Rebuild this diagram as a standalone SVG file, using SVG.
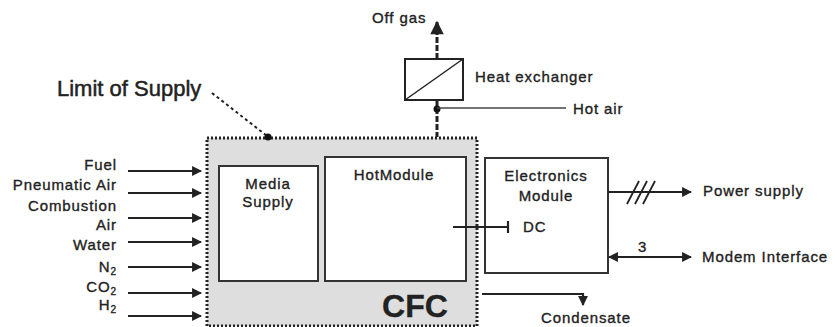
<svg xmlns="http://www.w3.org/2000/svg" width="835" height="327" viewBox="0 0 835 327">
<style>
text{font-family:"Liberation Sans",Arial,sans-serif;fill:#222;stroke:#222;stroke-width:0.35;font-size:15px;letter-spacing:0.9px}
.box{fill:#fff;stroke:#333;stroke-width:2}
.ln{fill:none;stroke:#222;stroke-width:2.2}
.end{text-anchor:end}
.mid{text-anchor:middle}
</style>
<defs>
<marker id="ah" viewBox="0 0 10 10" refX="9" refY="5" markerWidth="5" markerHeight="4.5" orient="auto-start-reverse" markerUnits="strokeWidth">
<path d="M0,0 L10,5 L0,10 Z" fill="#222"/>
</marker>
</defs>
<rect width="835" height="327" fill="#fff"/>

<g id="cfc">
<rect x="207" y="138" width="270" height="188" fill="#dedede" stroke="#222" stroke-width="3" stroke-dasharray="2 2"/>
<text x="415" y="317" class="mid" style="font-size:32px;font-weight:bold;letter-spacing:0">CFC</text>
</g>

<g id="media-supply">
<rect class="box" x="219" y="166" width="99" height="115"/>
<text x="268" y="189" class="mid">Media</text>
<text x="268" y="207" class="mid">Supply</text>
</g>

<g id="hotmodule">
<rect class="box" x="325" y="157" width="141" height="124"/>
<text x="394" y="180" class="mid">HotModule</text>
</g>

<g id="electronics">
<rect class="box" x="485" y="158" width="123" height="115"/>
<text x="546" y="181" class="mid">Electronics</text>
<text x="546" y="201" class="mid">Module</text>
<text x="523" y="232">DC</text>
</g>

<g id="heat-exchanger">
<rect x="405" y="59" width="58" height="41" fill="#fff" stroke="#222" stroke-width="2"/>
<line x1="405" y1="100" x2="463" y2="59" stroke="#222" stroke-width="1.5"/>
<text x="475" y="82">Heat exchanger</text>
</g>

<g id="limit-of-supply">
<text x="57" y="96" style="font-size:22px;letter-spacing:0;stroke-width:0.5">Limit of Supply</text>
</g>

<g id="labels">
<text x="117" y="170" class="end">Fuel</text>
<text x="117" y="190" class="end">Pneumatic Air</text>
<text x="117" y="211" class="end">Combustion</text>
<text x="117" y="230" class="end">Air</text>
<text x="117" y="250" class="end">Water</text>
<text x="117" y="272" class="end">N<tspan font-size="10" dy="3">2</tspan></text>
<text x="117" y="292" class="end">CO<tspan font-size="10" dy="3">2</tspan></text>
<text x="117" y="310" class="end">H<tspan font-size="10" dy="3">2</tspan></text>
<text x="372" y="23">Off gas</text>
<text x="573" y="114">Hot air</text>
<text x="703" y="196">Power supply</text>
<text x="702" y="262">Modem Interface</text>
<text x="638" y="252">3</text>
<text x="541" y="323">Condensate</text>
</g>

<g id="connectors">
<line class="ln" x1="128" y1="171" x2="201" y2="171" marker-end="url(#ah)"/>
<line class="ln" x1="128" y1="193" x2="201" y2="193" marker-end="url(#ah)"/>
<line class="ln" x1="128" y1="218" x2="201" y2="218" marker-end="url(#ah)"/>
<line class="ln" x1="128" y1="242" x2="201" y2="242" marker-end="url(#ah)"/>
<line class="ln" x1="128" y1="267" x2="201" y2="267" marker-end="url(#ah)"/>
<line class="ln" x1="128" y1="293" x2="201" y2="293" marker-end="url(#ah)"/>
<line class="ln" x1="128" y1="316" x2="201" y2="316" marker-end="url(#ah)"/>

<line x1="212" y1="93" x2="267" y2="136" stroke="#222" stroke-width="2" stroke-dasharray="3 3"/>
<circle cx="268" cy="137" r="3.5" fill="#111"/>

<line x1="437" y1="59" x2="437" y2="22" stroke="#222" stroke-width="3" stroke-dasharray="6 2" marker-end="url(#ah)"/>
<line x1="437" y1="100" x2="437" y2="137" stroke="#222" stroke-width="3" stroke-dasharray="6 2"/>
<circle cx="437" cy="109" r="3.5" fill="#111"/>
<line x1="437" y1="108" x2="566" y2="108" stroke="#444" stroke-width="1.5"/>

<line class="ln" x1="453" y1="227" x2="508" y2="227"/>
<line class="ln" x1="508" y1="221" x2="508" y2="233"/>

<line class="ln" x1="608" y1="192" x2="691" y2="192" marker-end="url(#ah)"/>
<line x1="627" y1="204" x2="639" y2="181" stroke="#222" stroke-width="1.8"/>
<line x1="635" y1="204" x2="647" y2="181" stroke="#222" stroke-width="1.8"/>
<line x1="643" y1="204" x2="655" y2="181" stroke="#222" stroke-width="1.8"/>

<line class="ln" x1="609" y1="257" x2="691" y2="257" marker-start="url(#ah)" marker-end="url(#ah)"/>

<polyline class="ln" points="482,294 583,294 583,305" marker-end="url(#ah)"/>
</g>
</svg>
